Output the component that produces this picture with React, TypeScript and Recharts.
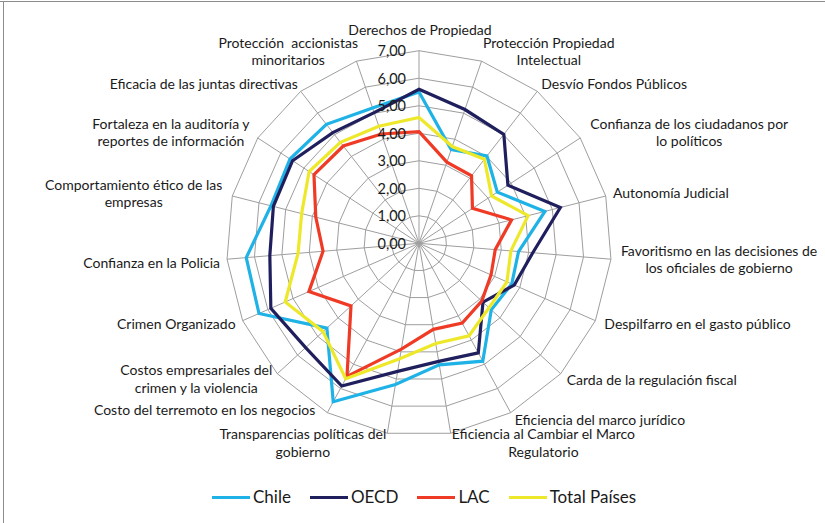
import React from "react";
import {
  RadarChart,
  Radar,
  PolarGrid,
  PolarAngleAxis,
  PolarRadiusAxis,
  Legend,
} from "recharts";

const categories = [
  "Derechos de Propiedad",
  "Protección Propiedad Intelectual",
  "Desvío Fondos Públicos",
  "Confianza de los ciudadanos por lo políticos",
  "Autonomía Judicial",
  "Favoritismo en las decisiones de los oficiales de gobierno",
  "Despilfarro en el gasto público",
  "Carda de la regulación fiscal",
  "Eficiencia del marco jurídico",
  "Eficiencia al Cambiar el Marco Regulatorio",
  "Transparencias políticas del gobierno",
  "Costo del terremoto en los negocios",
  "Costos empresariales del crimen y la violencia",
  "Crimen Organizado",
  "Confianza en la Policia",
  "Comportamiento ético de las empresas",
  "Fortaleza en la auditoría y reportes de información",
  "Eficacia de las juntas directivas",
  "Protección  accionistas minoritarios",
];

// label line breaks as shown in the chart
const categoryLines = [
  ["Derechos de Propiedad"],
  ["Protección Propiedad", "Intelectual"],
  ["Desvío Fondos Públicos"],
  ["Confianza de los ciudadanos por", "lo políticos"],
  ["Autonomía Judicial"],
  ["Favoritismo en las decisiones de", "los oficiales de gobierno"],
  ["Despilfarro en el gasto público"],
  ["Carda de la regulación fiscal"],
  ["Eficiencia del marco jurídico"],
  ["Eficiencia al Cambiar el Marco", "Regulatorio"],
  ["Transparencias políticas del", "gobierno"],
  ["Costo del terremoto en los negocios"],
  ["Costos empresariales del", "crimen y la violencia"],
  ["Crimen Organizado"],
  ["Confianza en la Policia"],
  ["Comportamiento ético de las", "empresas"],
  ["Fortaleza en la auditoría y", "reportes de información"],
  ["Eficacia de las juntas directivas"],
  ["Protección  accionistas", "minoritarios"],
];

const chile = [5.5, 3.6, 4.02, 3.4, 4.72, 3.63, 3.68, 3.57, 4.87, 4.48, 5.2, 6.55, 4.55, 6.35, 6.3, 5.55, 5.6, 5.48, 5.2];
const oecd = [5.6, 5.14, 5.02, 3.86, 5.3, 4.15, 3.78, 3.16, 4.53, 4.35, 4.72, 5.9, 5.6, 5.88, 5.44, 5.46, 5.49, 5.1, 5.02];
const lac = [4.06, 3.12, 3.11, 2.32, 3.47, 2.78, 2.86, 3.1, 3.3, 3.17, 3.9, 5.5, 3.36, 4.37, 3.5, 3.87, 4.56, 4.48, 4.2];
const total = [4.57, 3.72, 3.87, 3.15, 4.09, 3.35, 3.49, 3.46, 3.82, 3.69, 4.25, 5.6, 4.74, 5.31, 4.41, 4.4, 4.77, 4.65, 4.5];

const seriesNames = ["Chile", "OECD", "LAC", "Total Países"];
const seriesKeys = ["chile", "oecd", "lac", "total"];
const seriesColors = ["#1fb2e6", "#201f5e", "#ef3b26", "#eee82a"];
const radiusTicks = [0, 1, 2, 3, 4, 5, 6, 7];

const data = categories.map((c, i) => ({
  category: c,
  chile: chile[i],
  oecd: oecd[i],
  lac: lac[i],
  total: total[i],
}));

const CX = 419;
const CY = 243.3;
const R = 192.6;
const FONT = "Lato, 'Open Sans', sans-serif";
const LABEL_SIZE = 14;

// label placement relative to the spoke end: anchor side, x gap, y shift of block centre
const labelPlacement: [string, number, number][] = [
  ["middle", 1, -21],
  ["start", 1.5, -10],
  ["start", 4, -8],
  ["start", 10, -6],
  ["start", 7, -4],
  ["start", 10, 0],
  ["start", 9, 3],
  ["start", 6, 6],
  ["start", 4, 7],
  ["start", 1, 9],
  ["end", -1, 9],
  ["end", -12, -3],
  ["end", -5, 5],
  ["end", -7, 3],
  ["end", -7, 3],
  ["end", -10, -3],
  ["end", -8, -6],
  ["end", -3, -8],
  ["end", 1.5, -10],
];

let measureCtx: CanvasRenderingContext2D | null = null;
const measure = (s: string) => {
  if (!measureCtx) {
    const c = document.createElement("canvas");
    measureCtx = c.getContext("2d");
  }
  if (!measureCtx) return s.length * LABEL_SIZE * 0.5;
  measureCtx.font = `${LABEL_SIZE}px Lato`;
  return measureCtx.measureText(s).width;
};

const AngleTick = (props: any) => {
  const i = props.index;
  const a = (i * 2 * Math.PI) / categories.length;
  const ex = CX + R * Math.sin(a);
  const ey = CY - R * Math.cos(a);
  const [side, gx, dy] = labelPlacement[i];
  const lines = categoryLines[i];
  const lh = 17.5;
  const w = Math.max(...lines.map(measure));
  let x = ex + gx;
  if (side === "start") x += w / 2;
  if (side === "end") x -= w / 2;
  const y0 = ey + dy - ((lines.length - 1) * lh) / 2;
  return (
    <text x={x} y={y0} textAnchor="middle" fontFamily={FONT} fontSize={LABEL_SIZE} fill="#1a1a1a">
      {lines.map((l, k) => (
        <tspan key={k} x={x} y={y0 + k * lh} dominantBaseline="central" style={{ whiteSpace: "pre" }}>
          {l}
        </tspan>
      ))}
    </text>
  );
};

const RadiusTick = (props: any) => {
  const { x, y, payload } = props;
  return (
    <text
      x={x - 13}
      y={y}
      textAnchor="end"
      dominantBaseline="central"
      fontFamily={FONT}
      fontSize={14.5}
      fill="#1a1a1a"
    >
      {Number(payload.value).toFixed(2).replace(".", ",")}
    </text>
  );
};

const LegendContent = () => {
  return (
    <div style={{ display: "flex", alignItems: "center", paddingLeft: 212 }}>
      {seriesNames.map((name, k) => (
        <div key={k} style={{ display: "flex", alignItems: "center", marginRight: 19 }}>
          <div style={{ width: 38, height: 3, background: seriesColors[k], marginRight: 3 }} />
          <span style={{ fontFamily: FONT, fontSize: 17, color: "#1a1a1a", lineHeight: "20px" }}>
            {name}
          </span>
        </div>
      ))}
    </div>
  );
};

export default function App() {
  return (
    <div style={{ position: "absolute", left: 0, top: 0, width: 825, height: 523, background: "#fff" }}>
      <div style={{ position: "absolute", left: 0, top: 1, width: 825, height: 1, background: "#8c8c8c" }} />
      <div style={{ position: "absolute", left: 3, top: 1, width: 1, height: 522, background: "#8c8c8c" }} />
      <RadarChart
        width={825}
        height={523}
        data={data}
        cx={CX}
        cy={CY}
        outerRadius={R}
        margin={{ top: 0, right: 0, bottom: 0, left: 0 }}
      >
        <PolarGrid stroke="#9e9e9e" strokeWidth={1} polarRadius={radiusTicks.map((t) => (t / 7) * R)} />
        <PolarAngleAxis dataKey="category" tick={<AngleTick />} tickLine={false} axisLine={false} />
        <PolarRadiusAxis
          angle={90}
          domain={[0, 7]}
          ticks={radiusTicks}
          tickCount={8}
          axisLine={false}
          tick={<RadiusTick />}
        />
        {seriesKeys.map((k, i) => (
          <Radar
            key={k}
            name={seriesNames[i]}
            dataKey={k}
            stroke={seriesColors[i]}
            strokeWidth={3.2}
            fill="none"
            fillOpacity={0}
            dot={false}
            isAnimationActive={false}
          />
        ))}
        <Legend
          content={<LegendContent />}
          wrapperStyle={{ position: "absolute", top: 487, left: 0, width: 825 }}
        />
      </RadarChart>
    </div>
  );
}
